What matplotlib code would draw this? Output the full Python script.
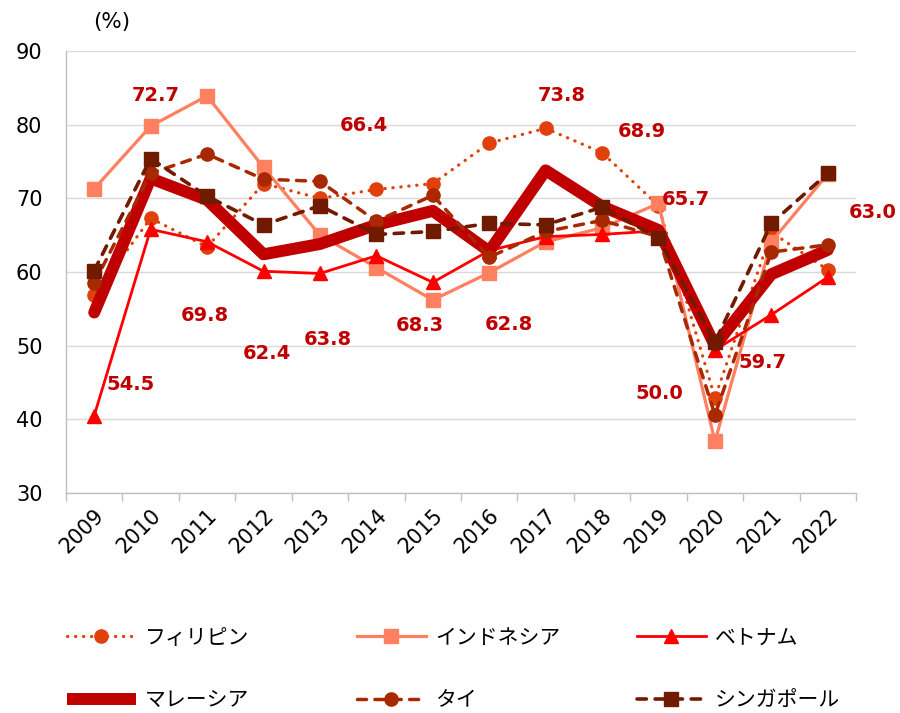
import matplotlib
matplotlib.use("Agg")
import matplotlib.pyplot as plt
from matplotlib.lines import Line2D
import numpy as np

years = ["2009", "2010", "2011", "2012", "2013", "2014", "2015",
         "2016", "2017", "2018", "2019", "2020", "2021", "2022"]

philippines = [56.9, 67.3, 63.4, 72.0, 70.0, 71.2, 72.0, 77.5, 79.5, 76.2, 69.0, 42.9, 65.4, 60.3]
indonesia   = [71.3, 79.8, 83.9, 74.2, 65.0, 60.6, 56.2, 59.9, 64.1, 66.0, 69.3, 37.0, 64.1, 73.3]
vietnam     = [40.5, 65.8, 64.1, 60.1, 59.8, 62.2, 58.6, 62.9, 64.8, 65.1, 65.6, 49.4, 54.2, 59.3]
malaysia    = [54.5, 72.7, 69.8, 62.4, 63.8, 66.4, 68.3, 62.8, 73.8, 68.9, 65.7, 50.0, 59.7, 63.0]
thailand    = [58.5, 73.4, 76.0, 72.6, 72.3, 66.9, 70.4, 62.0, 65.5, 67.0, 64.8, 40.6, 62.7, 63.7]
singapore   = [60.2, 75.4, 70.3, 66.4, 69.0, 65.1, 65.5, 66.6, 66.4, 68.8, 64.6, 50.5, 66.6, 73.4]

names = ["フィリピン", "インドネシア", "ベトナム", "マレーシア", "タイ", "シンガポール"]

# label offsets (pixels) relative to Malaysia points
label_offsets = [(36, -72), (5, 83), (-2, -116), (3, -99), (8, -95), (-12, 99), (-13, -115),
                 (20, -73), (16, 75), (40, 75), (27, 31), (-56, -48), (-9, -88), (45, 37)]

plt.rcParams['font.family'] = ['DejaVu Sans']

fig = plt.figure(figsize=(9, 7.13), dpi=100)
ax = fig.add_axes([66/900, 1-493/713, (856-66)/900, (493-51)/713])

x = np.arange(len(years))

c_ph = "#E0400C"
c_in = "#FF8060"
c_vn = "#FF0000"
c_my = "#C00000"
c_th = "#A82800"
c_sg = "#701A00"

l_ph, = ax.plot(x, philippines, color=c_ph, lw=2.3, linestyle=(0, (0.1, 2.4)),
                dash_capstyle='round', marker='o', ms=9.5, mec=c_ph, mfc=c_ph, zorder=3)
l_in, = ax.plot(x, indonesia, color=c_in, lw=2.3, marker='s', ms=9.5, mec=c_in, mfc=c_in, zorder=3)
l_vn, = ax.plot(x, vietnam, color=c_vn, lw=2.0, marker='^', ms=9.5, mec=c_vn, mfc=c_vn, zorder=3)
l_my, = ax.plot(x, malaysia, color=c_my, lw=8.6, solid_capstyle='round',
                solid_joinstyle='round', zorder=3)
l_th, = ax.plot(x, thailand, color=c_th, lw=2.5, linestyle=(0, (2.6, 2.4)),
                dash_capstyle='round', marker='o', ms=9.5, mec=c_th, mfc=c_th, zorder=3)
l_sg, = ax.plot(x, singapore, color=c_sg, lw=2.6, linestyle=(0, (2.6, 2.4)),
                dash_capstyle='round', marker='s', ms=9.5, mec=c_sg, mfc=c_sg, zorder=3)

for i, v in enumerate(malaysia):
    dx, dy = label_offsets[i]
    ax.annotate(f"{v:.1f}", (x[i], v), xytext=(dx, dy), textcoords='offset pixels',
                ha='center', va='center', fontsize=14, fontweight='bold', color=c_my, zorder=5)

ax.set_xlim(-0.5, len(years) - 0.5)
ax.set_ylim(30, 90)
ax.set_yticks(np.arange(30, 91, 10))
ax.set_xticks(x)
ax.set_xticklabels(years, rotation=45, ha='right', va='top', rotation_mode='anchor')
ax.set_xticks(np.arange(-0.5, len(years)), minor=True)
ax.tick_params(axis='x', which='major', length=0, pad=9, labelsize=15, colors='black')
ax.tick_params(axis='x', which='minor', length=6, width=1, color='#BFBFBF')
ax.tick_params(axis='y', length=0, pad=17, labelsize=15)

ax.grid(axis='y', color='#D9D9D9', lw=1)
ax.set_axisbelow(True)
for s in ['top', 'right']:
    ax.spines[s].set_visible(False)
for s in ['left', 'bottom']:
    ax.spines[s].set_color('#BFBFBF')
    ax.spines[s].set_linewidth(1)

fig.text(112/900, 1-22/713, "(%)", ha='center', va='center', fontsize=15.5)

# legend proxy for Malaysia so the thick handle keeps clear of its text
my_proxy = Line2D([], [], color=c_my, lw=8.6, solid_capstyle='butt')

handles = [l_ph, l_in, l_vn, my_proxy, l_th, l_sg]
col_x = [67/900, 357/900, 637/900]
groups = [(0, 3), (1, 4), (2, 5)]
for cx, (a, b) in zip(col_x, groups):
    fig.legend([handles[a], handles[b]], [names[a], names[b]], loc='center left',
               bbox_to_anchor=(cx, 1-669/713), frameon=False, borderpad=0,
               borderaxespad=0, handlelength=3.3, handletextpad=0.45,
               labelspacing=1.95, prop={'family': 'Noto Sans CJK JP', 'size': 15})

fig.savefig("out.png", dpi=100)
